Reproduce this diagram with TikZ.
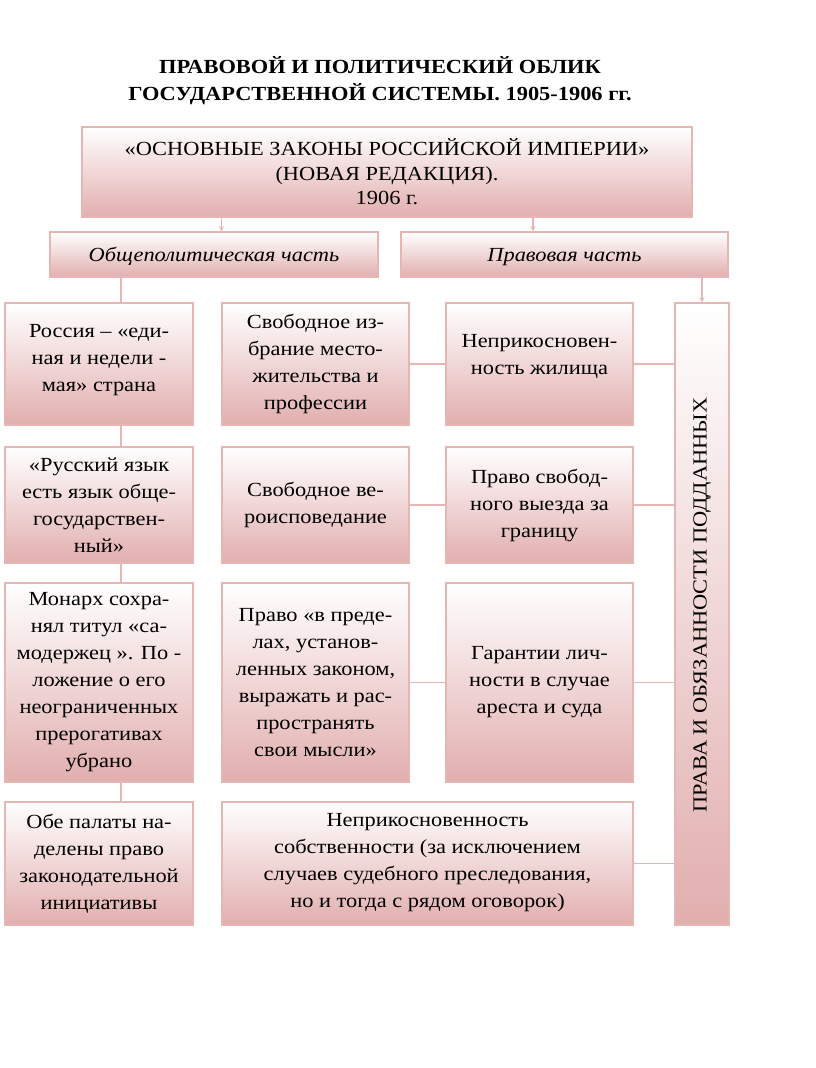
\documentclass[tikz,border=0pt]{standalone}
\usepackage{fontspec}
\setmainfont{Liberation Serif}[FakeStretch=1.12]
\usepackage{tikz}

\definecolor{rosefill}{RGB}{226,174,174}
\definecolor{roseline}{RGB}{230,182,181}

\begin{document}
\begin{tikzpicture}[x=1pt, y=-1pt,
        box/.style={draw=roseline, line width=1.3pt, top color=white, bottom color=rosefill,
                align=center, inner sep=2pt, text=black,
                font=\fontsize{20}{27}\selectfont},
        colbox/.style={box, minimum width=188pt},
        head/.style={box, minimum height=45pt, text depth=0pt, font=\itshape\fontsize{20}{22}\selectfont},
        link/.style={draw=roseline, line width=1.3pt},
        >=stealth]
        \useasboundingbox (0,0) rectangle (816,1068);
        \node (Title) at (380,81) [align=center, font=\bfseries\fontsize{20}{27}\selectfont]
                {ПРАВОВОЙ И ПОЛИТИЧЕСКИЙ ОБЛИК\\ГОСУДАРСТВЕННОЙ СИСТЕМЫ. 1905-1906 гг.};
        \node (Top) at (387,172) [box, minimum width=610pt, minimum height=90pt,
                font=\fontsize{20}{24.5}\selectfont]
                {«ОСНОВНЫЕ ЗАКОНЫ РОССИЙСКОЙ ИМПЕРИИ»\\(НОВАЯ РЕДАКЦИЯ).\\1906 г.};
        \node (HdrL) at (214,254.5) [head, minimum width=328pt] {Общеполитическая часть};
        \node (HdrR) at (564.5,254.5) [head, minimum width=327pt] {Правовая часть};
        % left column
        \begin{scope}[every node/.style={colbox}]
                \node (L1) at (99,364) [minimum height=122pt] {Россия – «еди-\\ная и недели -\\мая» страна\\[-14pt]\mbox{}};
                \node (L2) at (99,505) [minimum height=116pt] {«Русский язык\\есть язык обще-\\государствен-\\ный»};
                \node (L3) at (99,682.5) [minimum height=199pt] {Монарх сохра-\\нял титул «са-\\модержец ». По -\\ложение о его\\неограниченных\\прерогативах\\убрано};
                \node (L4) at (99,863.5) [minimum height=123pt] {Обе палаты на-\\делены право\\законодательной\\инициативы};
        \end{scope}
        % middle and right columns
        \begin{scope}[every node/.style={colbox, minimum width=187pt}]
                \node (M1) at (315.5,364) [minimum height=122pt] {Свободное из-\\брание место-\\жительства и\\профессии};
                \node (M2) at (315.5,505) [minimum height=116pt] {Свободное ве-\\роисповедание};
                \node (M3) at (315.5,682.5) [minimum height=199pt] {Право «в преде-\\лах, установ-\\ленных законом,\\выражать и рас-\\пространять\\свои мысли»};
                \node (R1) at (539.5,364) [minimum height=122pt] {Неприкосновен-\\ность жилища\\[-8pt]\mbox{}};
                \node (R2) at (539.5,505) [minimum height=116pt] {Право свобод-\\ного выезда за\\границу};
                \node (R3) at (539.5,682.5) [minimum height=199pt] {Гарантии лич-\\ности в случае\\ареста и суда};
        \end{scope}
        \node (Wide) at (427.5,863.5) [box, minimum width=411pt, minimum height=123pt]
                {\mbox{}\\[-15pt]Неприкосновенность\\собственности (за исключением\\случаев судебного преследования,\\но и тогда с рядом оговорок)};
        \node (Rights) at (702,614) [box, minimum width=54pt, minimum height=622pt]
                {\rotatebox{90}{\hspace{18pt}ПРАВА И ОБЯЗАННОСТИ ПОДДАННЫХ}};
        \coordinate (Spine) at (121,0);
        % arrows from the headings
        \draw[link, ->] (Top.south -| M1.west) -- (HdrL.north -| M1.west);
        \draw[link, ->] ([xshift=-31.5pt]HdrR.north |- Top.south) -- ([xshift=-31.5pt]HdrR.north);
        \draw[link, ->] (HdrR.south -| Rights.north) -- (Rights.north);
        % plain joins
        \foreach \a/\b in {HdrL/L1, L1/L2, L2/L3, L3/L4}
                \draw[link] (\a.south -| Spine) -- (\b.north -| Spine);
        \foreach \a/\b in {M1/R1, M2/R2, M3/R3}
                \draw[link] (\a.east) -- (\b.west |- \a.east);
        \foreach \a in {R1, R2, R3, Wide}
                \draw[link] (\a.east) -- (\a.east -| Rights.west);
\end{tikzpicture}
\end{document}
